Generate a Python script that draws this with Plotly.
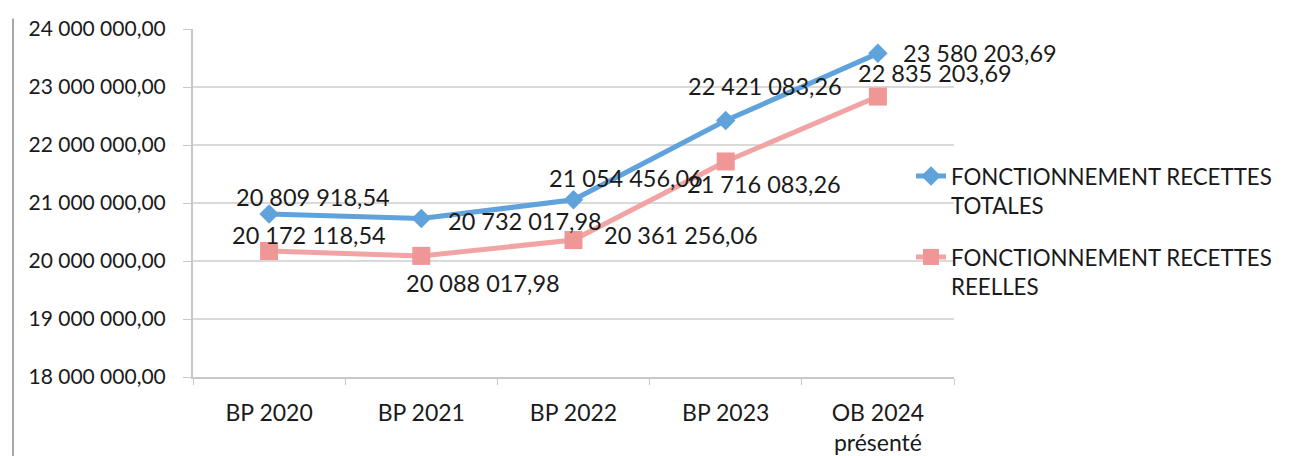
import plotly.graph_objects as go

categories = ["BP 2020", "BP 2021", "BP 2022", "BP 2023", "OB 2024<br>présenté"]
totales = [20809918.54, 20732017.98, 21054456.06, 22421083.26, 23580203.69]
reelles = [20172118.54, 20088017.98, 20361256.06, 21716083.26, 22835203.69]
y_ticks = [18000000, 19000000, 20000000, 21000000, 22000000, 23000000, 24000000]
name_totales = "FONCTIONNEMENT RECETTES<br>TOTALES"
name_reelles = "FONCTIONNEMENT RECETTES<br>REELLES"


def fr(v):
    s = f"{v:,.2f}"
    return s.replace(",", " ").replace(".", ",")


# label offsets (px) for each point: (xshift, yshift)
off_tot = [(44, 17), (104, -2), (52, 22), (39, 35), (102, 0)]
off_ree = [(40, 16), (62, -27), (107, 5), (38, -23), (57, 24)]

FONT = "Lato"
TXT = "#1a1a1a"
BLUE = "#5fa2dc"
PINK = "#f2a3a3"

fig = go.Figure()
fig.add_trace(go.Scatter(
    x=categories, y=totales, mode="lines+markers", name=name_totales, legendgroup="a",
    line=dict(color=BLUE, width=5),
    marker=dict(symbol="diamond", size=15, color=BLUE),
))
fig.add_trace(go.Scatter(
    x=categories, y=reelles, mode="lines+markers", name=name_reelles, legendgroup="b",
    line=dict(color=PINK, width=5),
    marker=dict(symbol="square", size=18, color="#ef9696"),
))

anns = []
for i, c in enumerate(categories):
    for vals, offs in ((totales, off_tot), (reelles, off_ree)):
        anns.append(dict(
            x=c, y=vals[i], xref="x", yref="y", text=fr(vals[i]), showarrow=False,
            xshift=offs[i][0], yshift=offs[i][1],
            font=dict(family=FONT, size=23.5, color=TXT),
        ))

fig.update_layout(
    width=1294, height=456,
    margin=dict(l=185, r=348, t=21, b=87),
    paper_bgcolor="white", plot_bgcolor="white",
    font=dict(family=FONT, color=TXT, size=21),
    showlegend=True,
    legend=dict(
        x=0.9435, y=0.638, xanchor="left", yanchor="top",
        valign="top", font=dict(family=FONT, size=22.3, color=TXT),
        traceorder="grouped", tracegroupgap=20, itemwidth=30, bgcolor="rgba(0,0,0,0)",
    ),
    annotations=anns,
    shapes=[dict(type="line", xref="paper", yref="paper", x0=-0.2365, x1=-0.2365, y0=-0.3, y1=1.03,
                 line=dict(color="#a8a8a8", width=2))],
)
fig.update_xaxes(
    type="category", showline=True, linecolor="#c8c8c8", linewidth=2,
    ticks="outside", tickson="boundaries", ticklen=6, tickcolor="#c8c8c8",
    showgrid=False, tickfont=dict(family=FONT, size=23, color=TXT),
    ticklabelstandoff=14, range=[-0.5, 4.5], automargin=False,
)
fig.update_yaxes(
    range=[18000000, 24000000], tickvals=y_ticks, ticktext=[fr(v) for v in y_ticks],
    showline=True, linecolor="#c8c8c8", linewidth=2, ticks="outside", ticklen=8,
    tickcolor="#c8c8c8", showgrid=True, gridcolor="#dadada", gridwidth=2,
    zeroline=False, tickfont=dict(family=FONT, size=21, color=TXT),
    ticklabelstandoff=13, automargin=False,
)

fig.write_html("out.html")
